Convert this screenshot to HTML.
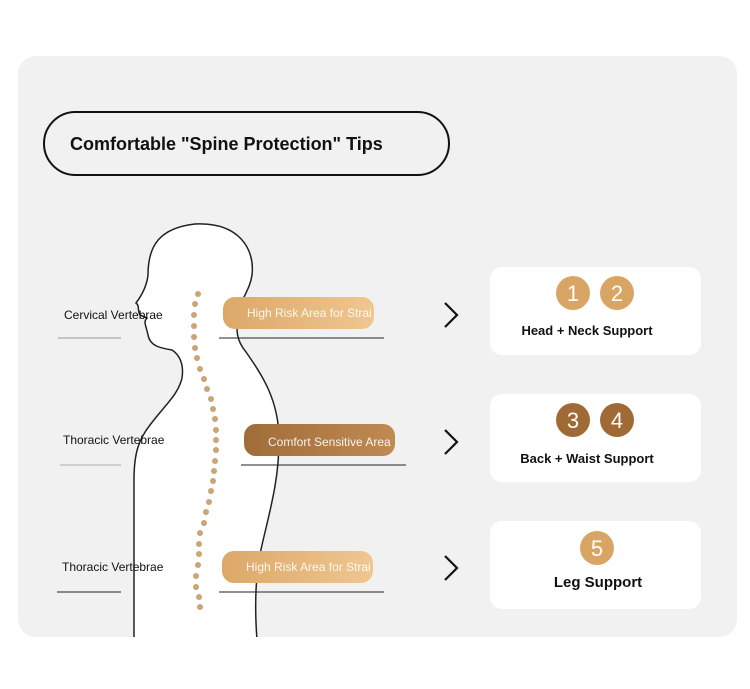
<!DOCTYPE html>
<html><head><style>
body{margin:0;background:#fff;width:750px;height:684px;overflow:hidden;font-family:"Liberation Sans",sans-serif}
</style></head><body>
<svg width="750" height="684" viewBox="0 0 750 684" xmlns="http://www.w3.org/2000/svg" font-family="Liberation Sans, sans-serif">
<defs>
<linearGradient id="g1" x1="0" x2="1"><stop offset="0" stop-color="#dba868"/><stop offset="1" stop-color="#f0c690"/></linearGradient>
<linearGradient id="g2" x1="0" x2="1"><stop offset="0" stop-color="#a06c38"/><stop offset="1" stop-color="#c08a52"/></linearGradient>
<clipPath id="cp"><rect x="18" y="56" width="719" height="581" rx="18"/></clipPath>
</defs>
<rect x="18" y="56" width="719" height="581" rx="18" fill="#f1f1f1"/>
<rect x="44" y="112" width="405" height="63" rx="31.5" fill="none" stroke="#111" stroke-width="2"/>
<text x="70" y="150" font-size="18" font-weight="bold" fill="#111">Comfortable "Spine Protection" Tips</text>
<g clip-path="url(#cp)">
<path d="M134,640 L134,480 C134,455 138,440 150,425 C165,405 178,395 182,378 C184,365 180,355 172,350 C160,348 150,346 148,335 C146,325 143,322 147,318 L140,315 C137,310 140,306 136,303 C142,295 147,285 148,275 C148,245 160,228 195,224 C240,222 255,250 252,275 C250,290 240,300 238,315 C236,330 236,340 246,352 C262,375 279,400 279,440 C279,480 270,510 262,545 C256,570 254,600 257,640 Z" fill="#fff" stroke="#222" stroke-width="1.5"/>
</g>
<g fill="#c9a577">
<circle cx="198" cy="294" r="3"/><circle cx="195" cy="304" r="3"/><circle cx="194" cy="315" r="3"/><circle cx="194" cy="326" r="3"/><circle cx="194" cy="337" r="3"/><circle cx="195" cy="348" r="3"/><circle cx="197" cy="358" r="3"/><circle cx="200" cy="369" r="3"/><circle cx="204" cy="379" r="3"/><circle cx="207" cy="389" r="3"/><circle cx="211" cy="399" r="3"/><circle cx="213" cy="409" r="3"/><circle cx="215" cy="419" r="3"/><circle cx="216" cy="430" r="3"/><circle cx="216" cy="440" r="3"/><circle cx="216" cy="450" r="3"/><circle cx="215" cy="461" r="3"/><circle cx="214" cy="471" r="3"/><circle cx="213" cy="481" r="3"/><circle cx="211" cy="491" r="3"/><circle cx="209" cy="502" r="3"/><circle cx="206" cy="512" r="3"/><circle cx="204" cy="523" r="3"/><circle cx="200" cy="533" r="3"/><circle cx="199" cy="544" r="3"/><circle cx="199" cy="554" r="3"/><circle cx="198" cy="565" r="3"/><circle cx="196" cy="576" r="3"/><circle cx="196" cy="587" r="3"/><circle cx="199" cy="597" r="3"/><circle cx="200" cy="607" r="3"/>
</g>
<g font-size="12" fill="#111">
<text x="64" y="319">Cervical Vertebrae</text>
<text x="63" y="444">Thoracic Vertebrae</text>
<text x="62" y="571">Thoracic Vertebrae</text>
</g>
<g stroke="#222" stroke-width="1">
<line x1="58" y1="338" x2="121" y2="338" stroke="#999"/>
<line x1="60" y1="465" x2="121" y2="465" stroke="#aaa"/>
<line x1="57" y1="592" x2="121" y2="592"/>
<line x1="219" y1="338" x2="384" y2="338"/>
<line x1="241" y1="465" x2="406" y2="465"/>
<line x1="219" y1="592" x2="384" y2="592"/>
</g>
<rect x="223" y="297" width="151" height="32" rx="12" fill="url(#g1)"/>
<text x="247" y="317" font-size="12" fill="#fff" opacity="0.9">High Risk Area for Strai</text>
<rect x="244" y="424" width="151" height="32" rx="12" fill="url(#g2)"/>
<text x="268" y="446" font-size="12" fill="#fff" opacity="0.9">Comfort Sensitive Area</text>
<rect x="222" y="551" width="151" height="32" rx="12" fill="url(#g1)"/>
<text x="246" y="571" font-size="12" fill="#fff" opacity="0.9">High Risk Area for Strai</text>
<g fill="none" stroke="#111" stroke-width="2.2">
<polyline points="445,303 457,315 445,327"/>
<polyline points="445,430 457,442 445,454"/>
<polyline points="445,556 457,568 445,580"/>
</g>
<g fill="#fff">
<rect x="490" y="267" width="211" height="88" rx="12"/>
<rect x="490" y="394" width="211" height="88" rx="12"/>
<rect x="490" y="521" width="211" height="88" rx="12"/>
</g>
<g font-size="22" fill="#fff" text-anchor="middle">
<circle cx="573" cy="293" r="17" fill="#d9a564"/><text x="573" y="301">1</text>
<circle cx="617" cy="293" r="17" fill="#d9a564"/><text x="617" y="301">2</text>
<circle cx="573" cy="420" r="17" fill="#a06a36"/><text x="573" y="428">3</text>
<circle cx="617" cy="420" r="17" fill="#a06a36"/><text x="617" y="428">4</text>
<circle cx="597" cy="548" r="17" fill="#d9a564"/><text x="597" y="556">5</text>
</g>
<g font-size="13" font-weight="bold" fill="#111" text-anchor="middle">
<text x="587" y="335">Head + Neck Support</text>
<text x="587" y="463">Back + Waist Support</text>
<text x="598" y="587" font-size="15">Leg Support</text>
</g>
</svg>
</body></html>
